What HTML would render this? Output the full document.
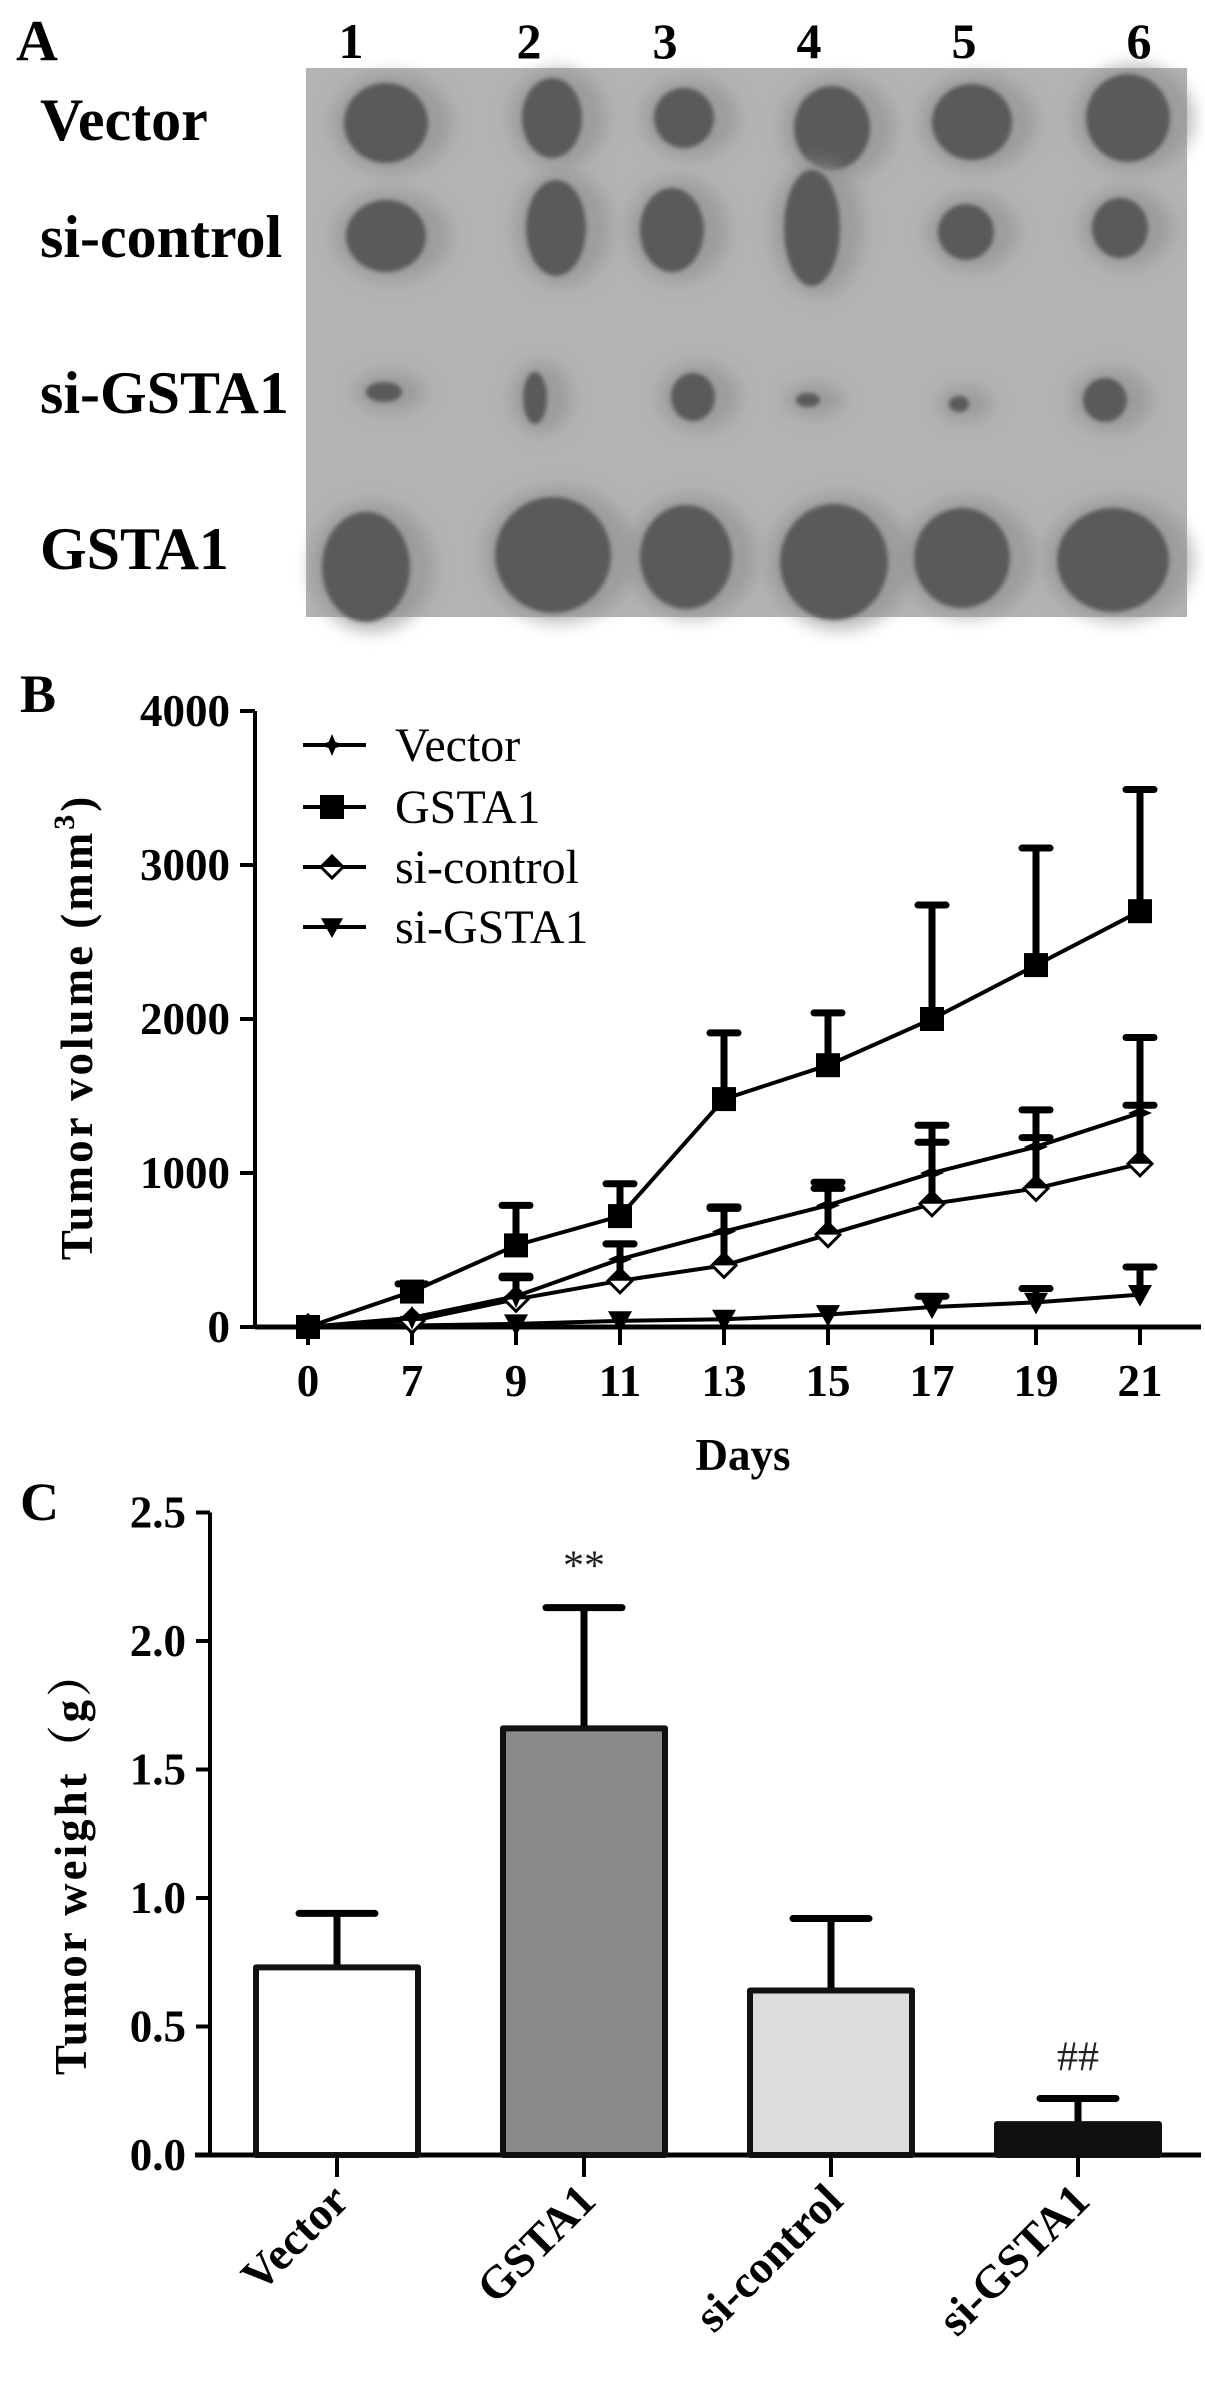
<!DOCTYPE html>
<html><head><meta charset="utf-8"><style>
html,body{margin:0;padding:0;background:#fff}
svg{display:block}
text{font-family:"Liberation Serif","Noto Serif CJK SC",serif}
</style></head><body>
<svg id="fig" width="1205" height="2394" viewBox="0 0 1205 2394" xmlns="http://www.w3.org/2000/svg">
<defs>
<filter id="blur" x="-50%" y="-50%" width="200%" height="200%"><feGaussianBlur stdDeviation="8"/></filter>
<filter id="blur2" x="-20%" y="-20%" width="140%" height="140%"><feGaussianBlur stdDeviation="2"/></filter>
</defs>
<!-- Panel A -->
<g id="panelA">
<text x="16" y="60" font-size="58" font-weight="bold">A</text>
<rect x="306" y="68" width="881" height="549" fill="#b3b3b3"/>
<g id="colnums" font-size="50" font-weight="bold" text-anchor="middle"></g>
<g id="rowlabels" font-size="60" font-weight="bold"></g>
<g id="tumors"></g>
</g>
<!-- Panel B -->
<g id="panelB">
<text x="20" y="712" font-size="54" font-weight="bold">B</text>
<g id="bAxes"></g><g id="bSeries"></g><g id="bLegend"></g>
</g>
<!-- Panel C -->
<g id="panelC">
<text x="20" y="1520" font-size="54" font-weight="bold">C</text>
<g id="cAxes"></g><g id="cBars"></g>
</g>
</svg>
<script>
// ---------- Panel A data ----------
const colNumbers = ["1","2","3","4","5","6"];
const rowNames = ["Vector","si-control","si-GSTA1","GSTA1"];
// ---------- Panel B data ----------
const days = [0,7,9,11,13,15,17,19,21];
const bYTicks = [0,1000,2000,3000,4000];
const seriesNames = ["Vector","GSTA1","si-control","si-GSTA1"];
const vectorVals = [0,60,200,440,620,790,1000,1170,1390];
const vectorErr  = [0,0,320,540,770,940,1310,1410,1880];
const gstaVals   = [0,230,530,720,1480,1700,2000,2350,2700];
const gstaErr    = [0,280,790,930,1910,2040,2740,3110,3490];
const siCtrlVals = [0,40,180,300,400,600,800,900,1060];
const siCtrlErr  = [0,0,330,540,780,900,1200,1230,1440];
const siGstaVals = [0,10,20,40,50,80,130,160,210];
const siGstaErr  = [0,0,0,0,0,0,200,250,390];
// ---------- Panel C data ----------
const groups = ["Vector","GSTA1","si-control","si-GSTA1"];
const weights = [0.73,1.66,0.64,0.12];
const weightErr = [0.94,2.13,0.92,0.22];
const cYTicks = ["0.0","0.5","1.0","1.5","2.0","2.5"];
const sigMarks = ["","**","","##"];

const NS="http://www.w3.org/2000/svg";
function mk(tag,attrs,parent){const e=document.createElementNS(NS,tag);for(const k in attrs)e.setAttribute(k,attrs[k]);parent.appendChild(e);return e;}

// ----- Panel A -----
const colX=[351,529,665,809,964,1139];
const cn=document.getElementById('colnums');
colNumbers.forEach((t,i)=>{const e=mk('text',{x:colX[i],y:58},cn);e.textContent=t;

});
const rowY=[140,257,413,569];
const rl=document.getElementById('rowlabels');
rowNames.forEach((t,i)=>{const e=mk('text',{x:40,y:rowY[i]},rl);e.textContent=t;

});
const tg=document.getElementById('tumors');
const tumorSpecs=[
 [[386,123,42,40],[552,118,30,40],[684,118,30,30],[832,128,38,42],[972,122,40,38],[1128,118,42,44]],
 [[386,236,40,36],[556,228,30,48],[672,230,32,42],[812,228,28,58],[966,232,28,28],[1120,228,28,30]],
 [[384,392,18,10],[535,398,12,26],[693,397,22,24],[808,400,12,7],[959,404,10,8],[1105,400,22,22]],
 [[366,567,44,55],[553,555,58,58],[686,557,46,52],[834,562,54,58],[962,558,48,50],[1113,560,56,52]]];
tumorSpecs.forEach(row=>row.forEach(s=>{
 const h=mk('ellipse',{cx:s[0]+6,cy:s[1],rx:s[2]+18,ry:s[3]+10,fill:'#8e8e8e',opacity:0.6,filter:'url(#blur)'},tg);
 
 
 const e=mk('ellipse',{cx:s[0],cy:s[1],rx:s[2],ry:s[3],fill:'#5a5a5a',filter:'url(#blur2)'},tg);
 
 
}));

// ----- Panel B -----
const bx0=308,bdx=104,by0=1327,byScale=154/1000;
const xB=i=>bx0+i*bdx;
const yB=v=>by0-v*byScale;
const ba=document.getElementById('bAxes');
let l=mk('line',{x1:255,y1:yB(4000),x2:255,y2:by0,stroke:'#000','stroke-width':4},ba);


l=mk('line',{x1:255,y1:by0,x2:1201,y2:by0,stroke:'#000','stroke-width':5},ba);


bYTicks.forEach(v=>{
 const t=mk('line',{x1:240,y1:yB(v),x2:255,y2:yB(v),stroke:'#000','stroke-width':4},ba);
 
 
 const tx=mk('text',{x:230,y:yB(v)+15,'font-size':45,'font-weight':'bold','text-anchor':'end'},ba);tx.textContent=v;
 
 
});
days.forEach((d,i)=>{
 const t=mk('line',{x1:xB(i),y1:by0,x2:xB(i),y2:by0+18,stroke:'#000','stroke-width':4},ba);
 
 
 const tx=mk('text',{x:xB(i),y:1396,'font-size':45,'font-weight':'bold','text-anchor':'middle'},ba);tx.textContent=d;
 
 
});
let tt=mk('text',{x:743,y:1470,'font-size':45,'font-weight':'bold','text-anchor':'middle'},ba);tt.textContent='Days';


tt=mk('text',{x:0,y:0,'font-size':45,'font-weight':'bold','text-anchor':'middle',transform:'translate(92,1027) rotate(-90)','letter-spacing':'3'},ba);
tt.innerHTML='Tumor volume (mm<tspan dy="-18" font-size="30">3</tspan><tspan dy="18">)</tspan>';



function marker(g,type,x,y,s){
 let e;
 if(type==='square') e=mk('rect',{x:x-s,y:y-s,width:2*s,height:2*s,fill:'#000'},g);
 else if(type==='star') e=mk('path',{d:`M${x},${y-s} L${x+s*0.3},${y-s*0.3} L${x+s},${y} L${x+s*0.3},${y+s*0.3} L${x},${y+s} L${x-s*0.3},${y+s*0.3} L${x-s},${y} L${x-s*0.3},${y-s*0.3}Z`,fill:'#000'},g);
 else if(type==='diamond'){
  e=mk('path',{d:`M${x-s},${y} L${x},${y-s} L${x+s},${y} L${x},${y+s}Z`,fill:'#fff',stroke:'#000','stroke-width':3},g);
  mk('path',{d:`M${x-s},${y} L${x},${y-s} L${x+s},${y}Z`,fill:'#000'},g);
 }
 else e=mk('path',{d:`M${x-s},${y-s*0.8} L${x+s},${y-s*0.8} L${x},${y+s}Z`,fill:'#000'},g);
 return e;
}
const bs=document.getElementById('bSeries');
const seriesVals=[vectorVals,gstaVals,siCtrlVals,siGstaVals];
const seriesErr=[vectorErr,gstaErr,siCtrlErr,siGstaErr];
const markers=['star','square','diamond','tri'];
const order=[3,2,0,1];
order.forEach(si=>{
 const g=mk('g',{},bs);
 
 
 const vals=seriesVals[si],err=seriesErr[si];
 vals.forEach((v,i)=>{ if(err[i]>v){
  const e=mk('path',{d:`M${xB(i)},${yB(v)} V${yB(err[i])} M${xB(i)-14},${yB(err[i])} H${xB(i)+14}`,stroke:'#000','stroke-width':7,'stroke-linecap':'round',fill:'none'},g);
  
  
 }});
 const pl=mk('polyline',{points:vals.map((v,i)=>xB(i)+','+yB(v)).join(' '),fill:'none',stroke:'#000','stroke-width':4},g);
 
 
 vals.forEach((v,i)=>{const m=marker(g,markers[si],xB(i),yB(v),si===1?12:12);
  
  });
});
const bl=document.getElementById('bLegend');
const legY=[745,807,867,927];
seriesNames.forEach((n,i)=>{
 const g=mk('g',{},bl);
 
 
 mk('line',{x1:303,y1:legY[i],x2:366,y2:legY[i],stroke:'#000','stroke-width':4},g);
 marker(g,markers[i],332,legY[i],i===1?12:11);
 const t=mk('text',{x:395,y:legY[i]+16,'font-size':48},g);t.textContent=n;
});

// ----- Panel C -----
const cy0=2155,cyScale=257;
const yC=v=>cy0-v*cyScale;
const cCenters=i=>337+i*247;
const ca=document.getElementById('cAxes');
l=mk('line',{x1:210,y1:yC(2.5),x2:210,y2:cy0,stroke:'#000','stroke-width':4},ca);


l=mk('line',{x1:195,y1:cy0,x2:1201,y2:cy0,stroke:'#000','stroke-width':5},ca);


cYTicks.forEach(s=>{const v=parseFloat(s);
 const t=mk('line',{x1:196,y1:yC(v),x2:210,y2:yC(v),stroke:'#000','stroke-width':4},ca);
 
 
 const tx=mk('text',{x:186,y:yC(v)+15,'font-size':45,'font-weight':'bold','text-anchor':'end'},ca);tx.textContent=s;
 
 
});
tt=mk('text',{x:0,y:0,'font-size':45,'font-weight':'bold','text-anchor':'middle',transform:'translate(86,1862) rotate(-90)','letter-spacing':'3'},ca);
tt.textContent='Tumor weight（g）';


const fills=['#ffffff','#8a8a8a','#dcdcdc','#111111'];
const cb=document.getElementById('cBars');
groups.forEach((gname,i)=>{
 const cx=cCenters(i);
 const g=mk('g',{},cb);
 
 
 mk('path',{d:`M${cx},${yC(weights[i])} V${yC(weightErr[i])} M${cx-38},${yC(weightErr[i])} H${cx+38}`,stroke:'#000','stroke-width':7,'stroke-linecap':'round',fill:'none'},g);
 mk('rect',{x:cx-81,y:yC(weights[i]),width:162,height:cy0-yC(weights[i]),fill:fills[i],stroke:'#111','stroke-width':6,'stroke-linejoin':'round'},g);
 mk('line',{x1:cx,y1:cy0,x2:cx,y2:cy0+22,stroke:'#000','stroke-width':4},g);
 if(sigMarks[i]){const s=mk('text',{x:cx,y:yC(weightErr[i])-28,'font-size':42,'text-anchor':'middle',fill:'#222'},g);s.textContent=sigMarks[i];
  
  }
 const lb=mk('text',{x:0,y:0,'font-size':46,'font-weight':'bold','text-anchor':'end',transform:`translate(${cx+14},${cy0+48}) rotate(-45)`},g);lb.textContent=gname;
 
 
});
</script>
</body></html>
